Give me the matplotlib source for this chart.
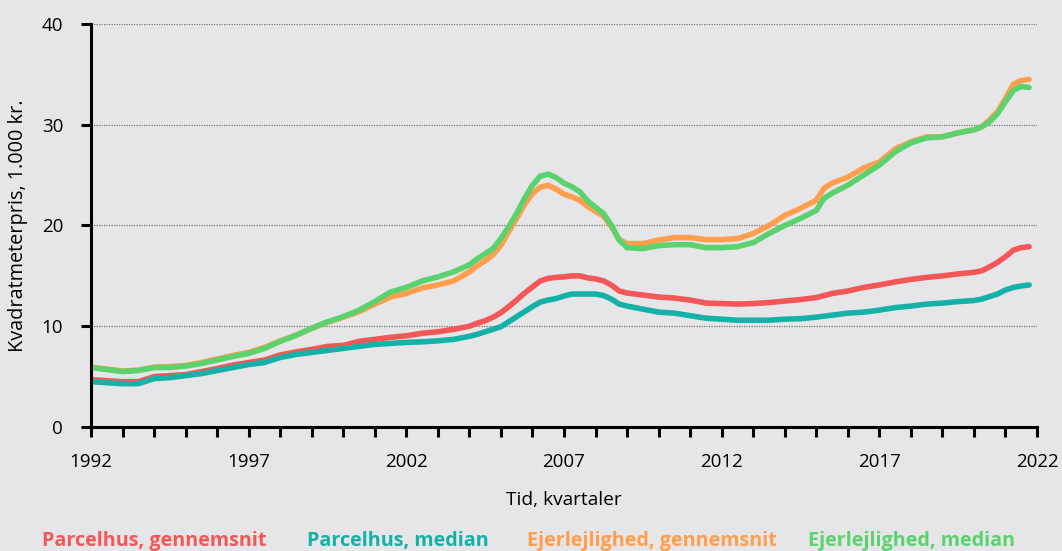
import numpy as np
import matplotlib.pyplot as plt

# kvadratmeterpriser, 1.000 kr.
years = [1992.0, 1992.5, 1993.0, 1993.5, 1994.0, 1994.5, 1995.0, 1995.5, 1996.0, 1996.5,
         1997.0, 1997.5, 1998.0, 1998.5, 1999.0, 1999.5, 2000.0, 2000.5, 2001.0, 2001.5,
         2002.0, 2002.5, 2003.0, 2003.5,
         2004.0, 2004.25, 2004.5, 2004.75, 2005.0, 2005.25, 2005.5, 2005.75, 2006.0, 2006.25,
         2006.5, 2006.75, 2007.0, 2007.25, 2007.5, 2007.75, 2008.0, 2008.25, 2008.5, 2008.75,
         2009.0,
         2009.5, 2010.0, 2010.5, 2011.0, 2011.5, 2012.0, 2012.5, 2013.0, 2013.5, 2014.0,
         2014.5, 2015.0,
         2015.25,
         2015.5, 2016.0, 2016.5, 2017.0, 2017.5, 2018.0, 2018.5, 2019.0, 2019.5, 2020.0,
         2020.25, 2020.5, 2020.75, 2021.0, 2021.25, 2021.5, 2021.75]

parcel_mean = [4.7, 4.6, 4.5, 4.5, 5.0, 5.1, 5.2, 5.5, 5.8, 6.15,
               6.4, 6.65, 7.15, 7.45, 7.7, 8.0, 8.1, 8.5, 8.7, 8.9,
               9.05, 9.3, 9.45, 9.7,
               10.0, 10.3, 10.55, 10.9, 11.35, 11.95, 12.6, 13.3, 13.9, 14.5,
               14.75, 14.85, 14.9, 15.0, 15.0, 14.8, 14.7, 14.5, 14.1, 13.5,
               13.3,
               13.1, 12.9, 12.8, 12.6, 12.3, 12.25, 12.2, 12.25, 12.35, 12.5,
               12.65, 12.85,
               13.05,
               13.25, 13.5, 13.85, 14.1, 14.4, 14.65, 14.85, 15.0, 15.2, 15.35,
               15.5, 15.9, 16.35, 16.9, 17.55, 17.8, 17.9]

parcel_median = [4.5, 4.4, 4.3, 4.3, 4.8, 4.9, 5.1, 5.3, 5.6, 5.9,
                 6.2, 6.4, 6.9, 7.2, 7.4, 7.6, 7.8, 8.0, 8.2, 8.3,
                 8.4, 8.45, 8.55, 8.7,
                 9.0, 9.2, 9.45, 9.7, 9.95, 10.45, 10.95, 11.45, 11.95, 12.4,
                 12.6, 12.75, 13.0, 13.2, 13.2, 13.2, 13.2, 13.05, 12.7, 12.2,
                 12.0,
                 11.7, 11.4, 11.3, 11.05, 10.8, 10.7, 10.6, 10.6, 10.6, 10.7,
                 10.75, 10.9,
                 11.0,
                 11.1, 11.3, 11.4, 11.6, 11.85, 12.0, 12.2, 12.3, 12.45, 12.55,
                 12.7, 12.95, 13.2, 13.6, 13.85, 14.0, 14.1]

ejer_mean = [5.95, 5.75, 5.55, 5.65, 5.95, 6.0, 6.1, 6.4, 6.75, 7.1,
             7.4, 7.9, 8.55, 9.1, 9.8, 10.4, 10.9, 11.45, 12.2, 12.9,
             13.25, 13.8, 14.1, 14.5,
             15.4, 16.0, 16.5, 17.1, 18.05, 19.4, 20.7, 22.1, 23.2, 23.8,
             24.0, 23.6, 23.1, 22.85, 22.5, 21.9, 21.4, 20.95, 19.9, 18.6,
             18.2,
             18.2, 18.55, 18.8, 18.8, 18.6, 18.6, 18.7, 19.2, 20.0, 21.0,
             21.7, 22.5,
             23.7,
             24.2, 24.8, 25.7, 26.3, 27.6, 28.3, 28.8, 28.8, 29.2, 29.5,
             29.8, 30.5, 31.3, 32.6, 34.0, 34.4, 34.5]

ejer_median = [5.9, 5.7, 5.5, 5.6, 5.9, 5.9, 6.05, 6.3, 6.65, 7.0,
               7.3, 7.8, 8.5, 9.1, 9.8, 10.45, 10.95, 11.6, 12.45, 13.4,
               13.85, 14.5, 14.9, 15.4,
               16.1, 16.7, 17.2, 17.7, 18.7, 19.9, 21.2, 22.7, 24.0, 24.9,
               25.1, 24.75, 24.2, 23.85, 23.35, 22.45, 21.8, 21.2, 20.05, 18.55,
               17.8,
               17.7, 18.0, 18.1, 18.1, 17.8, 17.8, 17.9, 18.3, 19.2, 20.0,
               20.7, 21.5,
               22.7,
               23.2, 24.0, 25.0, 26.0, 27.3, 28.2, 28.7, 28.8, 29.2, 29.5,
               29.8, 30.3, 31.1, 32.3, 33.4, 33.8, 33.7]

labels = ['Parcelhus, gennemsnit', 'Parcelhus, median',
          'Ejerlejlighed, gennemsnit', 'Ejerlejlighed, median']
colors = ['#F45757', '#14B2A6', '#FF9E4C', '#5CD26E']
bg = '#E6E6E8'

plt.rcParams['font.family'] = ['Open Sans', 'DejaVu Sans']

fig = plt.figure(figsize=(10.62, 5.51), dpi=100, facecolor=bg)
ax = fig.add_axes([91/1062, 1 - 427/551, 946/1062, 403/551])
ax.set_facecolor(bg)

series = [parcel_mean, parcel_median, ejer_mean, ejer_median]
for s, c in zip(series, colors):
    ax.plot(years, s, color=c, linewidth=4.0, solid_capstyle='round', solid_joinstyle='round')

ax.set_xlim(1992, 2022)
ax.set_ylim(0, 40)

# dotted gridlines
for yv in [10, 20, 30, 40]:
    ax.axhline(yv, color='#777777', linestyle=(0, (1, 1)), linewidth=0.9, zorder=0)

ax.set_xticks(np.arange(1992, 2023, 1))
ax.set_xticklabels([str(y) if (y - 1992) % 5 == 0 else '' for y in range(1992, 2023)])
ax.set_yticks([0, 10, 20, 30, 40])

for sp in ['top', 'right']:
    ax.spines[sp].set_visible(False)
for sp in ['left', 'bottom']:
    ax.spines[sp].set_linewidth(2.2)
    ax.spines[sp].set_color('black')

ax.tick_params(axis='x', length=7, width=2.2, pad=12, labelsize=13.5, color='black')
ax.tick_params(axis='y', length=7, width=2.2, pad=13, labelsize=13.5, color='black')

ax.set_xlabel('Tid, kvartaler', fontsize=13.8, labelpad=14)
ax.set_ylabel('Kvadratmeterpris, 1.000 kr.', fontsize=14.3)
ax.yaxis.set_label_coords(-0.067, 0.5)

# legend as colored text
leg_x = [42, 307, 527, 808]
for x, lab, c in zip(leg_x, labels, colors):
    fig.text(x/1062, 1 - 541/551, lab, color=c, fontsize=14.2, fontweight='bold',
             ha='left', va='center')

fig.savefig('out.png', dpi=100, facecolor=bg)
